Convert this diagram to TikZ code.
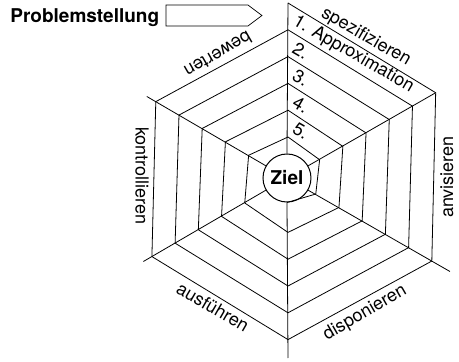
\documentclass[tikz,border=0pt]{standalone}
\usepackage{fontspec}
\setmainfont{TeX Gyre Heros}
\usepackage{tikz}

\begin{document}
\begin{tikzpicture}[x=1pt, y=1pt, line width=0.8pt,
	declare function ={
	spirad(\k) = 175 - \k*4.4667;
	},
	lbl/.style={font=\fontsize{18}{20}\selectfont, inner sep=0pt},
	fett/.style={font=\fontsize{19}{22}\selectfont\bfseries, inner sep=0pt}]
	\useasboundingbox (-288,-184) rectangle (171,178);
	
	\node[draw, circle, fill=white, minimum size=48pt, inner sep=0pt, line width=1pt, fett] (ziel) at (-1,0) {Ziel};
	
	% Speichen
	\foreach \a/\r [count=\i] in {90/175, 30/170.5, -30/187, -90/180, -150/167, 150/163} {
		\coordinate (end\i) at (\a:\r);
		\draw (ziel.\a) -- (end\i);
	}
	
	% Spirale
	\draw[domain=0:32, samples=33] plot ({90-60*\x}:{spirad(\x)}) -- (ziel.south);
	
	% Beschriftung
	\node[lbl, rotate=-30] (spez) at (78,141) {spezifizieren};
	\node[lbl, rotate=90] (anvis) at (159,1) {anvisieren};
	\node[lbl, rotate=30] (dispo) at (77,-135) {disponieren};
	\node[lbl, rotate=-30] (ausf) at (-75,-129) {ausführen};
	\node[lbl, rotate=-90] (kontr) at (-146,2) {kontrollieren};
	\node[lbl, rotate=210] (bew) at (-70,123) {bewerten};
	
	\foreach \t [count=\i from 0] in {1. Approximation, 2., 3., 4., 5.}
		\node[lbl, rotate=-30, anchor=west] (stufe\i) at (6, {158-26.8*\i}) {\t};
	
	\node[fett, anchor=base west] (problem) at (-278,155.3) {Problemstellung};
	\draw[line width=0.7pt] (-122,173) -- (-40,173) -- (-26,162.5) -- (-40,152) -- (-122,152) -- cycle;
\end{tikzpicture}
\end{document}
